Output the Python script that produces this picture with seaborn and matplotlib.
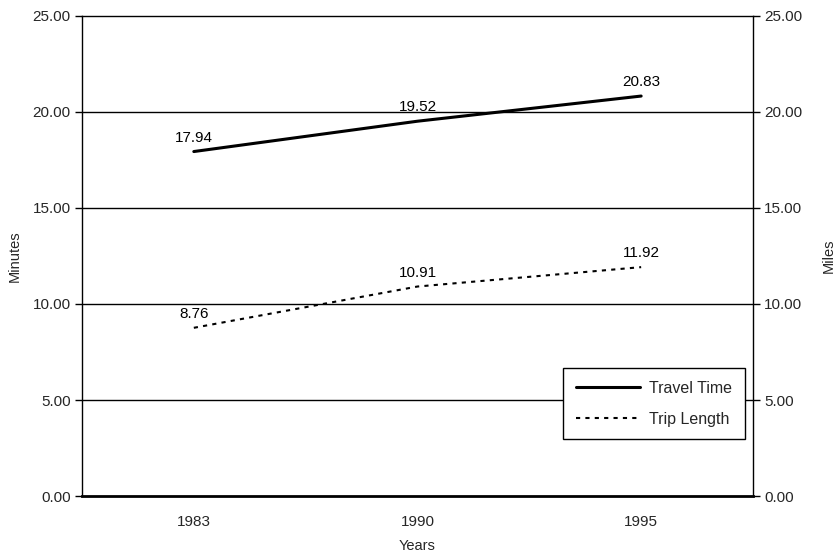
import matplotlib
matplotlib.use("Agg")
import matplotlib.pyplot as plt
import seaborn as sns
import pandas as pd
from matplotlib.ticker import FixedLocator, FormatStrFormatter

# Average commute values by survey year
years = ["1983", "1990", "1995"]
travel_time = [17.94, 19.52, 20.83]   # minutes
trip_length = [8.76, 10.91, 11.92]    # miles
y_ticks = [0, 5, 10, 15, 20, 25]

sns.set_theme(style="white")
plt.rcParams["font.family"] = ["Liberation Sans", "DejaVu Sans"]

FS = 11

df = pd.DataFrame({
    "pos": list(range(len(years))) * 2,
    "value": travel_time + trip_length,
    "series": ["Travel Time"] * len(years) + ["Trip Length"] * len(years),
})

fig = plt.figure(figsize=(8.4, 5.57), dpi=100)
ax = fig.add_axes([0.0976, 0.1095, 0.7988, 0.8618])

sns.lineplot(data=df, x="pos", y="value", hue="series", style="series",
             palette={"Travel Time": "black", "Trip Length": "black"},
             dashes={"Travel Time": "", "Trip Length": (2, 2.5)},
             size="series", sizes={"Travel Time": 2.2, "Trip Length": 1.5},
             ax=ax, legend=False, zorder=3)

for series, vals in (("Travel Time", travel_time), ("Trip Length", trip_length)):
    for i, v in enumerate(vals):
        ax.annotate(f"{v:.2f}", (i, v), xytext=(0, 5), textcoords="offset points",
                    ha="center", va="bottom", fontsize=FS, color="black")

ax.set_xlim(-0.5, len(years) - 0.5)
ax.set_ylim(0, 25)
for y in y_ticks[1:-1]:
    ax.axhline(y, color="black", lw=1.0, zorder=1)

ax.set_xticks(range(len(years)))
ax.set_xticklabels(years, fontsize=FS)
ax.xaxis.set_minor_locator(FixedLocator([0.5, 1.5]))
ax.tick_params(axis="x", which="major", length=0, pad=14)
ax.tick_params(axis="x", which="minor", length=5, width=1, direction="out", color="black")
ax.set_yticks(y_ticks)
ax.yaxis.set_major_formatter(FormatStrFormatter("%.2f"))
ax.tick_params(axis="y", length=5, width=1, direction="out", color="black", labelsize=FS, pad=3)
ax.set_xlabel("Years", fontsize=10.5, labelpad=7)
ax.set_ylabel("Minutes", fontsize=10.5, labelpad=8)

for side, sp in ax.spines.items():
    sp.set_color("black")
    sp.set_linewidth(1.0)
ax.spines["bottom"].set_linewidth(2.0)

ax2 = ax.twinx()
ax2.set_ylim(0, 25)
ax2.set_yticks(y_ticks)
ax2.yaxis.set_major_formatter(FormatStrFormatter("%.2f"))
ax2.tick_params(axis="y", length=5, width=1, direction="out", color="black", labelsize=FS, pad=3)
ax2.set_ylabel("Miles", fontsize=10.5, rotation=90, labelpad=14)
for sp in ax2.spines.values():
    sp.set_visible(False)

handles = [plt.Line2D([], [], color="black", lw=2.2),
           plt.Line2D([], [], color="black", lw=1.5, dashes=(2, 2.5))]
leg = ax.legend(handles, ["Travel Time", "Trip Length"], loc="upper right",
                bbox_to_anchor=(0.988, 0.267), frameon=True, fancybox=False,
                edgecolor="black", fontsize=11.5, handlelength=4.0,
                handletextpad=0.6, labelspacing=1.0, borderpad=0.8,
                borderaxespad=0, framealpha=1)
leg.get_frame().set_linewidth(1.0)

fig.savefig("out.png", dpi=100, facecolor="white")
